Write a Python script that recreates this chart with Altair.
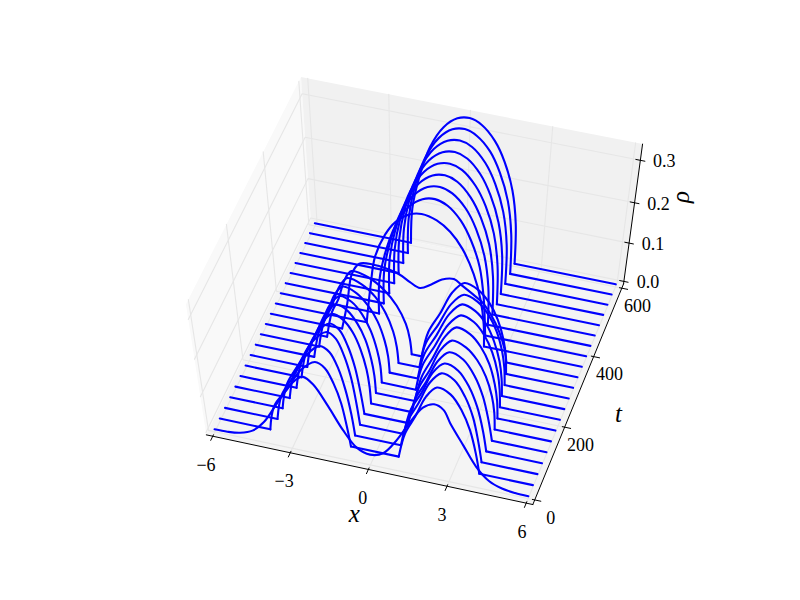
import numpy as np
import pandas as pd
import altair as alt

# ---- values: one (x, rho) profile per time step ----
times = list(range(0, 630, 30))
curve_x = [
 [-6,-5.5,-5,-4.5,-4,-3.5,-3,-2.6,-2.35,-2,-1.5,-1,-.5,0,.5,1,1.5,2,2.4,2.75,3,3.5,4,4.5,5,5.5,6],
 [-6,-4.04,-3.79,-3.23,-2.66,-2.1,-1.75,-1.46,-1.22,-1.05,-.93,.9,1.15,1.54,1.93,2.32,2.82,3.23,3.56,3.81,3.97,6],
 [-6,-3.96,-3.71,-3.18,-2.63,-2.1,-1.76,-1.47,-1.25,-1.07,-.96,.8,1.05,1.47,1.88,2.3,2.77,3.17,3.49,3.72,3.88,6],
 [-6,-3.96,-3.71,-3.16,-2.6,-2.05,-1.72,-1.45,-1.23,-1.07,-.96,.73,.98,1.4,1.81,2.23,2.73,3.14,3.47,3.72,3.88,6],
 [-6,-3.88,-3.63,-3.14,-2.64,-2.14,-1.79,-1.5,-1.27,-1.1,-.98,.72,.97,1.39,1.8,2.22,2.73,3.16,3.5,3.75,3.92,6],
 [-6,-3.81,-3.56,-3.12,-2.67,-2.23,-1.83,-1.5,-1.24,-1.04,-.95,-.91,.67,.92,1.33,1.73,2.14,2.65,3.08,3.42,3.68,3.8,3.85,6],
 [-6,-3.81,-3.56,-3.13,-2.71,-2.28,-1.87,-1.53,-1.25,-1.05,-.95,-.91,.6,.85,1.27,1.7,2.12,2.62,3.03,3.37,3.61,3.73,3.78,6],
 [-6,-3.78,-3.53,-3.14,-2.75,-2.35,-1.91,-1.54,-1.24,-1.02,-.91,-.87,.45,.7,1.16,1.64,2.1,2.58,2.98,3.3,3.54,3.65,3.7,6],
 [-6,-3.7,-3.45,-3.11,-2.78,-2.44,-1.93,-1.51,-1.17,-.92,-.8,-.75,.34,.59,1.05,1.51,1.97,2.46,2.87,3.19,3.44,3.55,3.6,6],
 [-6,-3.7,-3.45,-3.12,-2.79,-2.46,-1.9,-1.43,-1.06,-.78,-.65,-.59,.22,.47,.93,1.4,1.86,2.36,2.78,3.11,3.36,3.48,3.53,6],
 [-6,-3.58,-3.33,-3.05,-2.78,-2.5,-1.83,-1.27,-.82,-.48,-.33,-.26,.13,.38,.82,1.26,1.7,2.21,2.64,2.98,3.24,3.36,3.41,6],
 [-6,-3.18,-2.93,-2.7,-2.4,-1.9,-.94,-.5,-.12,.3,.7,1.14,1.45,1.9,2.24,2.6,2.9,3.15,3.25,6],
 [-6,-2.4,-2.2,-2,-1.6,-1.2,-.7,-.25,.3,.8,1.25,1.7,2,2.15,2.2,6],
 [-6,-2.1,-2.05,-1.8,-1.4,-.9,-.4,.05,.5,1,1.4,1.75,1.95,2.07,6],
 [-6,-2.1,-2.05,-1.8,-1.4,-.9,-.4,.05,.5,1,1.4,1.75,1.95,2.0,6],
 [-6,-2.07,-2.03,-1.8,-1.4,-.9,-.4,.05,.5,1,1.4,1.75,1.95,2.0,6],
 [-6,-2.06,-2.02,-1.8,-1.4,-.9,-.4,.05,.5,1,1.4,1.75,1.95,2.0,6],
 [-6,-2.07,-2.03,-1.8,-1.4,-.9,-.4,.05,.5,1,1.4,1.75,1.95,1.98,6],
 [-6,-2.07,-2.03,-1.8,-1.4,-.9,-.4,.05,.5,1,1.4,1.75,1.95,1.98,6],
 [-6,-2.07,-2.03,-1.8,-1.4,-.9,-.4,.05,.5,1,1.4,1.75,1.95,2.0,6],
 [-6,-2.13,-2.07,-1.8,-1.4,-.9,-.4,.05,.5,1,1.4,1.75,1.95,2.0,6],
]
curve_rho = [
 [0,.001,.006,.02,.053,.105,.158,.19,.2,.185,.135,.078,.035,.023,.035,.078,.135,.185,.2,.19,.158,.105,.053,.02,.006,.001,0],
 [0,0,.07,.124,.183,.213,.202,.166,.117,.055,0,0,.07,.124,.183,.213,.202,.166,.117,.055,0,0],
 [0,0,.07,.13,.194,.225,.214,.176,.124,.059,0,0,.07,.128,.189,.22,.209,.172,.121,.057,0,0],
 [0,0,.07,.135,.2,.233,.221,.182,.128,.061,0,0,.07,.125,.185,.215,.204,.168,.118,.056,0,0],
 [0,0,.07,.13,.194,.225,.214,.176,.124,.059,0,0,.07,.125,.185,.215,.204,.168,.118,.056,0,0],
 [0,0,.07,.128,.189,.22,.21,.183,.143,.092,.048,0,0,.07,.125,.185,.215,.205,.178,.14,.09,.047,0,0],
 [0,0,.07,.125,.185,.215,.205,.178,.14,.09,.047,0,0,.07,.128,.189,.22,.21,.183,.143,.092,.048,0,0],
 [0,0,.07,.121,.179,.208,.199,.173,.135,.087,.046,0,0,.07,.129,.191,.222,.212,.184,.144,.093,.049,0,0],
 [0,0,.07,.118,.175,.203,.194,.168,.132,.085,.045,0,0,.07,.128,.189,.22,.21,.183,.143,.092,.048,0,0],
 [0,0,.07,.114,.169,.197,.188,.164,.128,.083,.043,0,0,.07,.125,.185,.215,.205,.178,.14,.09,.047,0,0],
 [0,0,.07,.108,.161,.187,.179,.155,.122,.079,.041,0,0,.07,.125,.185,.215,.205,.178,.14,.09,.047,0,0],
 [0,0,.07,.15,.18,.185,.175,.16,.15,.165,.183,.19,.178,.16,.145,.115,.08,.035,0,0],
 [0,0,.1,.176,.236,.272,.296,.303,.295,.274,.24,.183,.12,.06,0,0],
 [0,0,.09,.163,.235,.286,.31,.316,.307,.278,.235,.175,.098,0,0],
 [0,0,.09,.164,.238,.288,.313,.319,.31,.281,.238,.176,.099,0,0],
 [0,0,.09,.165,.239,.29,.315,.321,.312,.282,.239,.178,.1,0,0],
 [0,0,.09,.166,.241,.292,.317,.323,.314,.284,.241,.179,.1,0,0],
 [0,0,.09,.167,.242,.294,.319,.325,.316,.286,.242,.18,.101,0,0],
 [0,0,.09,.168,.244,.296,.321,.327,.318,.288,.244,.181,.101,0,0],
 [0,0,.09,.169,.245,.297,.323,.329,.319,.29,.245,.182,.102,0,0],
 [0,0,.09,.17,.246,.298,.324,.33,.32,.29,.246,.182,.102,0,0],
]
x_ticks = [-6, -3, 0, 3, 6]
x_tick_labels = ["\u22126", "\u22123", "0", "3", "6"]
t_ticks = [0, 200, 400, 600]
t_tick_labels = ["0", "200", "400", "600"]
z_ticks = [0.0, 0.1, 0.2, 0.3]
z_tick_labels = ["0.0", "0.1", "0.2", "0.3"]

# ---- the view of the 3-D axes ----
ELEV, AZIM, DIST = np.radians(60), np.radians(-73), 10.0
XLIM, TLIM, ZLIM = (-6.0, 6.0), (0.0, 600.0), (0.0, 0.33)
X0, X1 = -6.25, 6.25
T0, T1 = -12.5, 612.5
Z0, Z1 = -0.33 / 48, 0.33 + 0.33 / 48
AX_L, AX_W, AX_T, AX_H = 100.0, 620.0, 60.0, 480.0

_n = np.array([np.cos(ELEV) * np.cos(AZIM), np.cos(ELEV) * np.sin(AZIM), np.sin(ELEV)])
_u = np.cross([0, 0, 1], _n); _u /= np.linalg.norm(_u)
_v = np.cross(_n, _u)


def project(x, t, z):
    d = np.array([(x - XLIM[0]) / 12.0 - .5, (t - TLIM[0]) / 600.0 - .5, (z - ZLIM[0]) / (ZLIM[1] - ZLIM[0]) - .5])
    w = DIST - _n @ d
    xp, yp = (_u @ d) / w, (_v @ d) / w
    return (AX_L + AX_W * (xp + .095) / .185,
            AX_T + AX_H - AX_H * (yp + .095) / .185)


def polyline_rows(points, group):
    rows = []
    for i, p in enumerate(points):
        a, b = project(*p)
        rows.append({"X": a, "Y": b, "i": i, "g": group})
    return rows


def pane_rows(corners, shade, name):
    pts = [project(*c) for c in corners]
    xs = sorted({p[0] for p in pts})
    rows = []
    for xv in xs:
        ys = []
        for k in range(4):
            (a, b), (c, d) = pts[k], pts[(k + 1) % 4]
            if min(a, c) <= xv <= max(a, c):
                ys += [b, d] if a == c else [b + (d - b) * (xv - a) / (c - a)]
        rows.append({"X": xv, "Y": min(ys), "Y2": max(ys), "g": name, "c": shade})
    return rows


curve_rows = []
for n, (xs, rs) in enumerate(zip(curve_x, curve_rho)):
    piece, part = [], 0
    for i, (a, r) in enumerate(zip(xs, rs)):
        piece.append((a, times[n], r))
        if i > 0 and r == 0:
            curve_rows += polyline_rows(piece, f"{n}-{part}")
            part += 1
            piece = [(a, times[n], r)]

pane_data = (
    pane_rows([(X0, T0, Z0), (X0, T1, Z0), (X0, T1, Z1), (X0, T0, Z1)], "#f9f9f9", "left")
    + pane_rows([(X0, T1, Z0), (X1, T1, Z0), (X1, T1, Z1), (X0, T1, Z1)], "#f1f1f1", "back")
    + pane_rows([(X0, T0, Z0), (X1, T0, Z0), (X1, T1, Z0), (X0, T1, Z0)], "#f4f4f4", "floor")
)

grid_rows = []
for v in x_ticks:
    grid_rows += polyline_rows([(v, T0, Z0), (v, T1, Z0), (v, T1, Z1)], f"x{v}")
for v in t_ticks:
    grid_rows += polyline_rows([(X1, v, Z0), (X0, v, Z0), (X0, v, Z1)], f"t{v}")
for v in z_ticks:
    grid_rows += polyline_rows([(X1, T1, v), (X0, T1, v), (X0, T0, v)], f"z{v}")

axis_rows = (
    polyline_rows([(X0, T0, Z0), (X1, T0, Z0)], "ax")
    + polyline_rows([(X1, T0, Z0), (X1, T1, Z0)], "at")
    + polyline_rows([(X1, T1, Z0), (X1, T1, Z1)], "az")
)
for v in x_ticks:
    axis_rows += polyline_rows([(v, T0 + 4, Z0), (v, T0 - 11.5, Z0)], f"tx{v}")
for v in t_ticks:
    axis_rows += polyline_rows([(X1 - .09, v, Z0), (X1 + .23, v, Z0)], f"tt{v}")
for v in z_ticks:
    axis_rows += polyline_rows([(X1 - .165, T1, v), (X1 + .165, T1, v)], f"tz{v}")


def label_rows(items):
    rows = []
    for text, p in items:
        a, b = project(*p)
        rows.append({"X": a, "Y": b, "text": text})
    return rows


xs_ = alt.X("X:Q", scale=alt.Scale(domain=[8, 792], nice=False, zero=False), axis=None)
ys_ = alt.Y("Y:Q", scale=alt.Scale(domain=[592, 8], nice=False, zero=False), axis=None)


def lines(rows, color, width):
    return alt.Chart(pd.DataFrame(rows)).mark_line(
        color=color, strokeWidth=width, strokeCap="round", strokeJoin="round"
    ).encode(x=xs_, y=ys_, detail="g:N", order="i:Q")


def labels(items, dx, dy, size=18, style="normal", angle=0):
    return alt.Chart(pd.DataFrame(label_rows(items))).mark_text(
        font="Liberation Serif", fontSize=size, fontStyle=style, color="black",
        dx=dx, dy=dy, angle=angle, align="center", baseline="middle"
    ).encode(x=xs_, y=ys_, text="text:N")


panes = alt.Chart(pd.DataFrame(pane_data)).mark_area(interpolate="linear").encode(
    x=xs_, y=ys_, y2="Y2:Q", detail="g:N", color=alt.Color("c:N", scale=None)
)
curves = alt.Chart(pd.DataFrame(curve_rows)).mark_line(
    color="#0000ff", strokeWidth=2.1, interpolate="catmull-rom", strokeCap="round", strokeJoin="round"
).encode(x=xs_, y=ys_, detail="g:N", order="i:Q")

chart = alt.layer(
    panes,
    lines(grid_rows, "#e6e6e6", 1.1),
    lines(axis_rows, "#000000", 1.0),
    curves,
    labels(list(zip(x_tick_labels, [(v, -100, 0) for v in x_ticks])), 9, 0),
    labels(list(zip(t_tick_labels, [(X1 + .6, v, 0) for v in t_ticks])), 0, 18),
    labels(list(zip(z_tick_labels, [(X1, T1, v) for v in z_ticks])), 24, 2),
    labels([("x", (0, -145, 0))], 8, -2, size=25, style="italic"),
    labels([("t", (7.75, 300, 0))], 0, 17, size=25, style="italic"),
    labels([("\u03c1", (X1 + 1.65, T1, .235))], 0, 0, size=25, style="italic", angle=270),
).properties(
    width=784, height=584, padding=0, autosize=alt.AutoSizeParams(type="none")
).configure_view(stroke=None)

chart.save("out.html", embed_options={"renderer": "svg", "actions": False})
